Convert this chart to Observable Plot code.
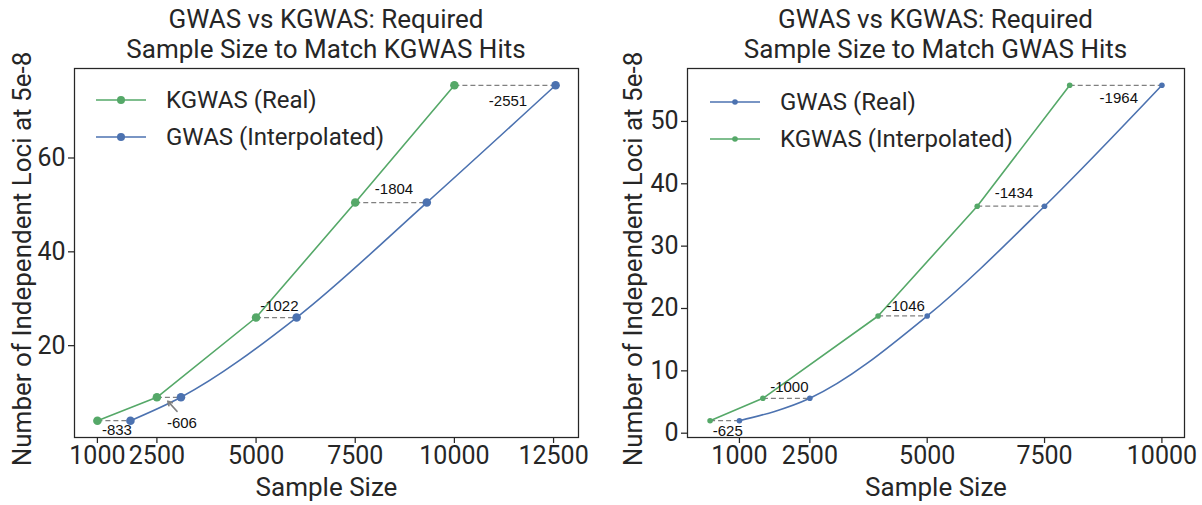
<!DOCTYPE html>
<html>
<head>
<meta charset="utf-8">
<script src="https://cdn.jsdelivr.net/npm/d3@7"></script>
<script src="https://cdn.jsdelivr.net/npm/@observablehq/plot@0.6"></script>
<style>
  body { margin: 0; background: #fff; }
  #fig { position: relative; width: 1202px; height: 505px; overflow: hidden;
         font-family: Roboto, sans-serif; color: #262626; }
  .panel { position: absolute; top: 0; }
  .title { position: absolute; top: 4px; transform: translateX(-50%); text-align: center;
           font-size: 26px; line-height: 30px; white-space: nowrap; }
  .legend { position: absolute; font-size: 24px; }
  .legend .row { display: flex; align-items: center; height: 37px; }
  .legend svg { margin-right: 20px; }
</style>
</head>
<body>
<div id="fig"></div>
<script>
// Left panel: KGWAS measured sample sizes and the GWAS sample size needed for the same loci count
const leftSizes = [1000, 2500, 5000, 7500, 10000];
const leftLoci = [4, 9, 26, 50.5, 75.5];
const leftDiffs = [-833, -606, -1022, -1804, -2551];
const leftXTicks = [1000, 2500, 5000, 7500, 10000, 12500];
const leftYTicks = [20, 40, 60];

// Right panel: GWAS measured sample sizes and the KGWAS sample size needed for the same loci count
const rightSizes = [1000, 2500, 5000, 7500, 10000];
const rightLoci = [2, 5.6, 18.8, 36.4, 55.8];
const rightDiffs = [-625, -1000, -1046, -1434, -1964];
const rightXTicks = [1000, 2500, 5000, 7500, 10000];
const rightYTicks = [0, 10, 20, 30, 40, 50];

const GREEN = "#55a868";
const BLUE = "#4c72b0";
const GRAY = "#808080";
const H = 505;

const fig = document.getElementById("fig");

// 5% padding on each side of the data extent
function padded(values) {
  const [a, b] = d3.extent(values);
  const m = (b - a) * 0.05;
  return [a - m, b + m];
}

function drawPanel(cfg) {
  const rows = cfg.loci.map((y, i) => ({
    y, kg: cfg.kg[i], gw: cfg.gw[i], diff: cfg.diffs[i], place: cfg.place[i]
  }));
  const xDomain = padded([...cfg.kg, ...cfg.gw]);
  const yDomain = padded(cfg.loci);
  const xRange = [cfg.marginLeft, cfg.width - cfg.marginRight];
  const yRange = [H - cfg.marginBottom, cfg.marginTop];
  const xs = Plot.scale({x: {domain: xDomain, range: xRange}});
  const ys = Plot.scale({y: {domain: yDomain, range: yRange}});

  // Difference labels sit a few pixels off the dashed segment's midpoint
  const labels = rows.map(d => {
    const mx = xs.apply((d.kg + d.gw) / 2), my = ys.apply(d.y);
    const p = d.place;
    const out = {...d, tx: xs.invert(mx + (p.dx ?? 3)), ty: ys.invert(my + p.dy)};
    if (p.arrow) {
      out.ax1 = xs.invert(mx + p.arrow[0]); out.ay1 = ys.invert(my + p.arrow[1]);
      out.ax2 = xs.invert(mx + p.arrow[2]); out.ay2 = ys.invert(my + p.arrow[3]);
    }
    return out;
  });
  const arrowed = labels.filter(d => d.place.arrow);

  return Plot.plot({
    width: cfg.width,
    height: H,
    marginLeft: cfg.marginLeft,
    marginRight: cfg.marginRight,
    marginTop: cfg.marginTop,
    marginBottom: cfg.marginBottom,
    style: {fontFamily: "Roboto, sans-serif", color: "#262626", background: "transparent"},
    x: {domain: xDomain, range: xRange},
    y: {domain: yDomain, range: yRange},
    marks: [
      Plot.axisX({ticks: cfg.xTicks, tickFormat: d => String(d), tickSize: 6, tickPadding: 3,
                  fontSize: 25, label: null, strokeWidth: 1.25}),
      Plot.axisY({ticks: cfg.yTicks, tickFormat: d => String(d), tickSize: 6, tickPadding: 3,
                  fontSize: 25, label: null, strokeWidth: 1.25}),
      Plot.text(["Sample Size"], {frameAnchor: "bottom", lineAnchor: "middle", dy: 50,
                                  fontSize: 26, fill: "#262626"}),
      Plot.text(["Number of Independent Loci at 5e-8"],
                {frameAnchor: "left", textAnchor: "middle", lineAnchor: "middle", rotate: -90,
                 dx: cfg.yLabelDx, dy: 6, fontSize: 26, fill: "#262626"}),
      Plot.link(rows, {x1: "kg", x2: "gw", y1: "y", y2: "y", stroke: GRAY,
                       strokeWidth: 1.25, strokeDasharray: "5,3"}),
      Plot.line(rows, {x: "kg", y: "y", stroke: GREEN, strokeWidth: 1.6}),
      Plot.line(rows, {x: "gw", y: "y", stroke: BLUE, strokeWidth: 1.6, curve: "monotone-x"}),
      Plot.dot(rows, {x: "kg", y: "y", r: cfg.r, fill: GREEN}),
      Plot.dot(rows, {x: "gw", y: "y", r: cfg.r, fill: BLUE}),
      Plot.arrow(arrowed, {x1: "ax1", y1: "ay1", x2: "ax2", y2: "ay2", stroke: GRAY,
                           strokeWidth: 1.8, headLength: 8}),
      Plot.text(labels, {x: "tx", y: "ty", text: d => String(d.diff), fontSize: 15,
                         fontFamily: "Liberation Sans, Arial, sans-serif", fill: "#111"}),
      Plot.frame({stroke: "#262626", strokeWidth: 1.25})
    ]
  });
}

function legend(entries, r) {
  const div = document.createElement("div");
  div.className = "legend";
  for (const e of entries) {
    const row = document.createElement("div");
    row.className = "row";
    row.innerHTML =
      `<svg width="50" height="12"><line x1="0" x2="50" y1="6" y2="6" stroke="${e.color}" stroke-width="1.6"/>` +
      `<circle cx="25" cy="6" r="${r}" fill="${e.color}"/></svg><span>${e.label}</span>`;
    div.appendChild(row);
  }
  return div;
}

function addPanel(left, cfg, titleLines, legendEntries) {
  const wrap = document.createElement("div");
  wrap.className = "panel";
  wrap.style.left = left + "px";
  wrap.style.width = cfg.width + "px";
  wrap.style.height = H + "px";
  wrap.appendChild(drawPanel(cfg));

  const t = document.createElement("div");
  t.className = "title";
  t.style.left = (cfg.marginLeft + (cfg.width - cfg.marginRight)) / 2 + "px";
  t.innerHTML = titleLines.join("<br>");
  wrap.appendChild(t);

  const lg = legend(legendEntries, cfg.legendR);
  lg.style.left = cfg.legendLeft + "px";
  lg.style.top = cfg.legendTop + "px";
  wrap.appendChild(lg);
  fig.appendChild(wrap);
}

// Pixel offsets of each difference label (and the one leader arrow) from the segment midpoint
const leftPlace = [{dy: 9}, {dx: 13, dy: 26, arrow: [8, 14, -1, 4]}, {dy: -11}, {dy: -13}, {dy: 16}];
const rightPlace = [{dy: 10}, {dy: -11}, {dy: -10}, {dy: -13}, {dy: 13}];

addPanel(0, {
  width: 601, marginLeft: 74, marginRight: 23, marginTop: 68, marginBottom: 68,
  kg: leftSizes, gw: leftSizes.map((s, i) => s - leftDiffs[i]), loci: leftLoci,
  diffs: leftDiffs, place: leftPlace, xTicks: leftXTicks, yTicks: leftYTicks,
  r: 4.3, legendR: 4, yLabelDx: -52, legendLeft: 96, legendTop: 81
}, ["GWAS vs KGWAS: Required", "Sample Size to Match KGWAS Hits"],
   [{label: "KGWAS (Real)", color: GREEN}, {label: "GWAS (Interpolated)", color: BLUE}]);

addPanel(601, {
  width: 601, marginLeft: 86, marginRight: 18, marginTop: 68, marginBottom: 68,
  gw: rightSizes, kg: rightSizes.map((s, i) => s + rightDiffs[i]), loci: rightLoci,
  diffs: rightDiffs, place: rightPlace, xTicks: rightXTicks, yTicks: rightYTicks,
  r: 2.8, legendR: 2.8, yLabelDx: -54, legendLeft: 109, legendTop: 83
}, ["GWAS vs KGWAS: Required", "Sample Size to Match GWAS Hits"],
   [{label: "GWAS (Real)", color: BLUE}, {label: "KGWAS (Interpolated)", color: GREEN}]);
</script>
</body>
</html>
